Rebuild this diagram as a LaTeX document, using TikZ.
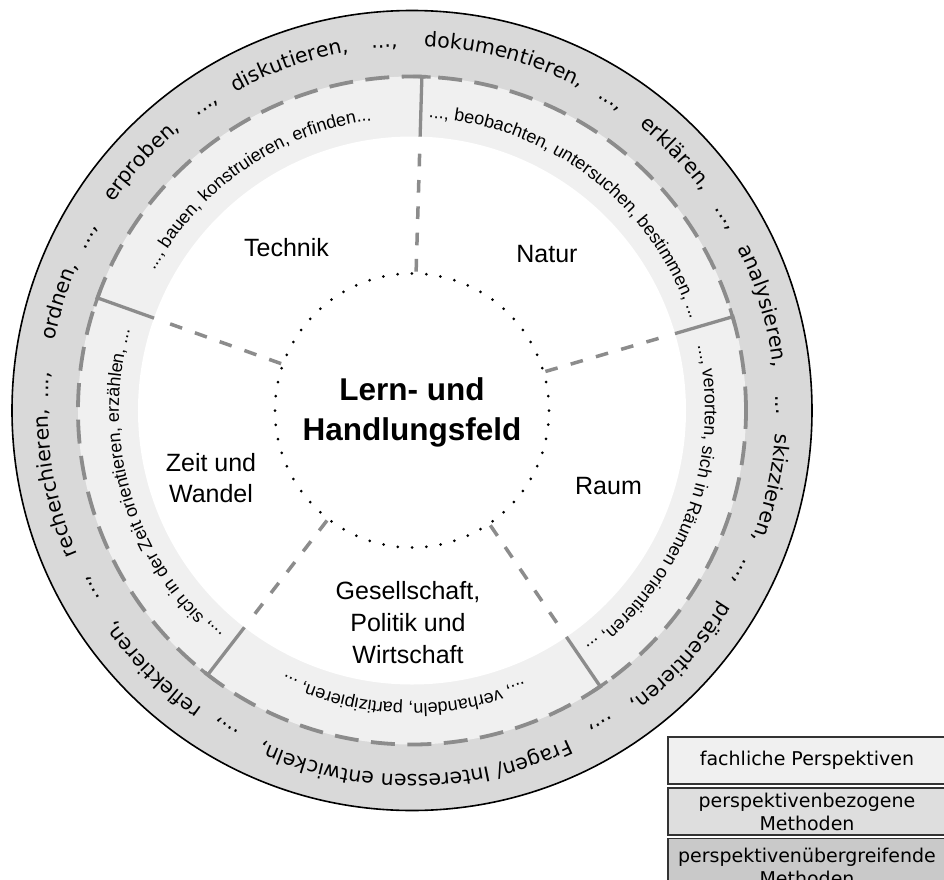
\documentclass[tikz,border=0pt]{standalone}
\usepackage{fontspec}
\setmainfont{Liberation Sans}
\newfontfamily\dejavu{DejaVu Sans}
\usetikzlibrary{decorations.text}
\definecolor{ringDark}{HTML}{D9D9D9}
\definecolor{ringLight}{HTML}{F0F0F0}
\definecolor{lineGray}{HTML}{8C8C8C}
\definecolor{boxLight}{HTML}{F0F0F0}
\definecolor{boxMid}{HTML}{DEDEDE}
\definecolor{boxDark}{HTML}{C9C9C9}
\tikzstyle{perspLabel} = [inner sep=0pt, align=center, font=\fontsize{25}{31.6}\selectfont]
\tikzstyle{centerLabel} = [inner sep=0pt, align=center, font=\bfseries\fontsize{31.5}{40}\selectfont]
\tikzstyle{legendRec} = [rectangle, draw=black!80, line width=1.3pt, minimum width=278pt, minimum height=47pt, inner sep=0pt, align=center, font=\dejavu\fontsize{19}{23}\selectfont]
\tikzstyle{dividerSolid} = [draw=lineGray, line width=3.3pt]
\tikzstyle{dividerDash} = [draw=lineGray, line width=3.5pt, dash pattern=on 12.7pt off 13.6pt]
% word in the outer ring, centred on an angle
\newcommand{\outerWord}[2]{%
  \path[decorate, decoration={text along path, text align=center,
    text={|\dejavu\fontsize{20.5}{24}\selectfont|#2}}]
    (#1+45:364) arc[start angle=#1+45, end angle=#1-45, radius=364];}
% methods text in the light ring
\newcommand{\innerText}[2]{%
  \path[decorate, decoration={text along path, text align=center,
    text={|\fontsize{18}{22}\selectfont|#2}}]
    (#1+50:293) arc[start angle=#1+50, end angle=#1-50, radius=293];}
% border between two perspectives
\newcommand{\sectorLine}[1]{%
  \begin{scope}[rotate=#1]
    \draw[dividerSolid] (274,0) -- (334,0);
    \draw[dividerSolid] (-1.5:334) arc[start angle=-1.5, end angle=1.5, radius=334];
    \draw[dividerDash] (139,0) -- (258,0);
  \end{scope}}

\begin{document}
\begin{tikzpicture}[x=1pt, y=1pt]
    \useasboundingbox (-412,-468.5) rectangle (532,410.5);

    \fill[ringDark] (0,0) circle[radius=400];
    \draw[black, line width=1.6pt] (0,0) circle[radius=400];
    \fill[ringLight] (0,0) circle[radius=334];
    \fill[white] (0,0) circle[radius=274];
    \draw[lineGray, line width=3.8pt, dash pattern=on 24pt off 12.5pt] (0,0) circle[radius=334];
    \draw[black, line width=3pt, line cap=round, dash pattern=on 0pt off 14.35pt] (0,0) circle[radius=137];

    \sectorLine{16.3}
    \sectorLine{88.3}
    \sectorLine{160.3}
    \sectorLine{232.3}
    \sectorLine{304.3}

    % outer ring
    \outerWord{-89.4}{Fragen/ Interessen entwickeln,}
    \outerWord{-120.3}{...,}
    \outerWord{225}{reflektieren,}
    \outerWord{209}{...,}
    \outerWord{191.5}{recherchieren,}
    \outerWord{176}{...,}
    \outerWord{162.7}{ordnen,}
    \outerWord{151.8}{...,}
    \outerWord{137.3}{erproben,}
    \outerWord{124}{...,}
    \outerWord{109.5}{diskutieren,}
    \outerWord{94.3}{...,}
    \outerWord{75.3}{dokumentieren,}
    \outerWord{57.4}{...,}
    \outerWord{44.2}{erklären,}
    \outerWord{31.6}{...,}
    \outerWord{16.6}{analysieren,}
    \outerWord{0.9}{...}
    \outerWord{-12.2}{skizzieren,}
    \outerWord{-26.1}{...,}
    \outerWord{-42.5}{präsentieren,}
    \outerWord{-58.9}{...,}

    % light ring
    \innerText{124.7}{..., bauen, konstruieren, erfinden...}
    \innerText{52.4}{..., beobachten, untersuchen, bestimmen, ...}
    \innerText{-20.4}{..., verorten, sich in Räumen orientieren, ...}
    \innerText{-91.6}{..., verhandeln, partizipieren, ...}
    \innerText{196.9}{..., sich in der Zeit orientieren, erzählen, ...}

    \node (Feld) [centerLabel] at (0,-2) {Lern- und\\Handlungsfeld};
    \node (Technik) [perspLabel] at (-125.5,163) {Technik};
    \node (Natur) [perspLabel] at (135,156.5) {Natur};
    \node (Raum) [perspLabel] at (196.5,-75.5) {Raum};
    \node (Zeit) [perspLabel] at (-201,-67.5) {Zeit und\\Wandel};
    \node (Gesell) [perspLabel] at (-4,-212) {Gesellschaft,\\Politik und\\Wirtschaft};

    \node (LegFach) [legendRec, fill=boxLight] at (395,-350) {fachliche Perspektiven};
    \node (LegBez) [legendRec, fill=boxMid] at (395,-401) {perspektivenbezogene\\Methoden};
    \node (LegUeber) [legendRec, fill=boxDark, minimum height=56.4pt] at (395,-456) {perspektivenübergreifende\\Methoden};
\end{tikzpicture}
\end{document}
